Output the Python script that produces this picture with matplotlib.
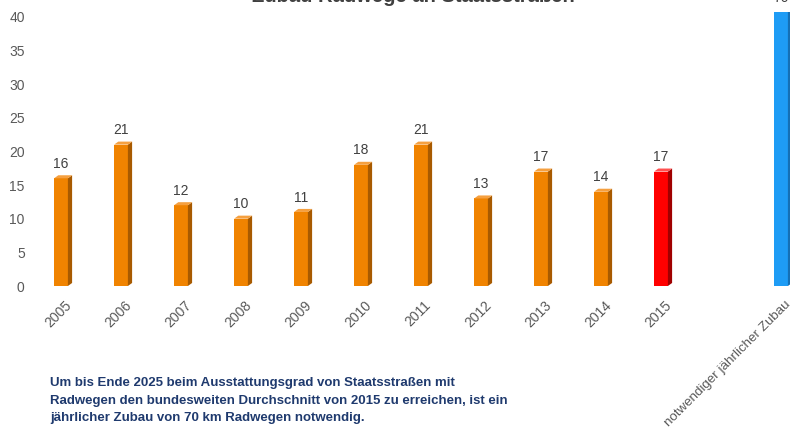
import matplotlib
matplotlib.use("Agg")
import matplotlib.pyplot as plt
import matplotlib.transforms as mtransforms
from matplotlib.patches import Polygon
import numpy as np

# data
categories = ["2005", "2006", "2007", "2008", "2009", "2010", "2011",
              "2012", "2013", "2014", "2015", "notwendiger jährlicher Zubau"]
values = [16, 21, 12, 10, 11, 18, 21, 13, 17, 14, 17, 70]
value_labels = ["16", "21", "12", "10", "11", "18", "21", "13", "17", "14", "17", "70"]
slot_index = [0, 1, 2, 3, 4, 5, 6, 7, 8, 9, 10, 12]
y_ticks = [0, 5, 10, 15, 20, 25, 30, 35, 40]

title = "Zubau Radwege an Staatsstraßen"
note = ("Um bis Ende 2025 beim Ausstattungsgrad von Staatsstraßen mit\n"
        "Radwegen den bundesweiten Durchschnitt von 2015 zu erreichen, ist ein\n"
        "jährlicher Zubau von 70 km Radwegen notwendig.")

ORANGE = ("#F08300", "#A85A00", "#F5A040")
RED = ("#FF0000", "#A00000", "#FF5050")
BLUE = ("#1E9CF5", "#1570B5", "#5CB8F8")

plt.rcParams["font.family"] = ["Liberation Sans", "DejaVu Sans"]

W, H = 790, 430
fig = plt.figure(figsize=(W / 100, H / 100), dpi=100)
ax = fig.add_axes([40 / W, 144 / H, 750 / W, 274 / H])

x = np.array(slot_index, dtype=float)
bar_w = 0.23
dx, dy = 0.07, 0.45
y_top = 40.7

for i, (xi, v) in enumerate(zip(x, values)):
    if i == len(values) - 1:
        front, side, top = BLUE
    elif categories[i] == "2015":
        front, side, top = RED
    else:
        front, side, top = ORANGE
    x0, x1 = xi - bar_w / 2, xi + bar_w / 2
    ax.bar(xi, v, width=bar_w, color=front, zorder=3)
    ax.add_patch(Polygon([(x1, 0), (x1 + dx, dy), (x1 + dx, v + dy), (x1, v)],
                         closed=True, color=side, zorder=3, lw=0))
    ax.add_patch(Polygon([(x0, v), (x0 + dx, v + dy), (x1 + dx, v + dy), (x1, v)],
                         closed=True, color=top, zorder=3, lw=0))
    # bars taller than the axis get their label at the top edge
    ax.text(xi, min(v, y_top) + 1.1, value_labels[i], ha="center", va="bottom",
            fontsize=10, color="#404040", clip_on=False)

ax.set_xlim(-0.35, 12.15)
ax.set_ylim(0, y_top)
ax.set_yticks(y_ticks)
ax.set_xticks(x)
ax.set_xticklabels(categories, rotation=45, ha="right", va="top",
                   rotation_mode="anchor")
ax.tick_params(axis="both", length=0, labelsize=10, colors="#595959")
ax.tick_params(axis="y", pad=11)
ax.tick_params(axis="x", pad=9)
offset = mtransforms.ScaledTranslation(3 / 100, 0, fig.dpi_scale_trans)
for lbl in ax.get_xticklabels():
    lbl.set_transform(lbl.get_transform() + offset)
ax.get_xticklabels()[-1].set_fontsize(9.6)
for s in ax.spines.values():
    s.set_visible(False)

fig.text(413 / W, 1 - 2.5 / H, title, ha="center", va="baseline",
         fontsize=14.5, fontweight="bold", color="#404040")
fig.text(50 / W, 1 - 377 / H, note, ha="left", va="top", fontsize=9.5,
         fontweight="bold", color="#1F3A6E", linespacing=1.62)

fig.savefig("out.png", dpi=100)
